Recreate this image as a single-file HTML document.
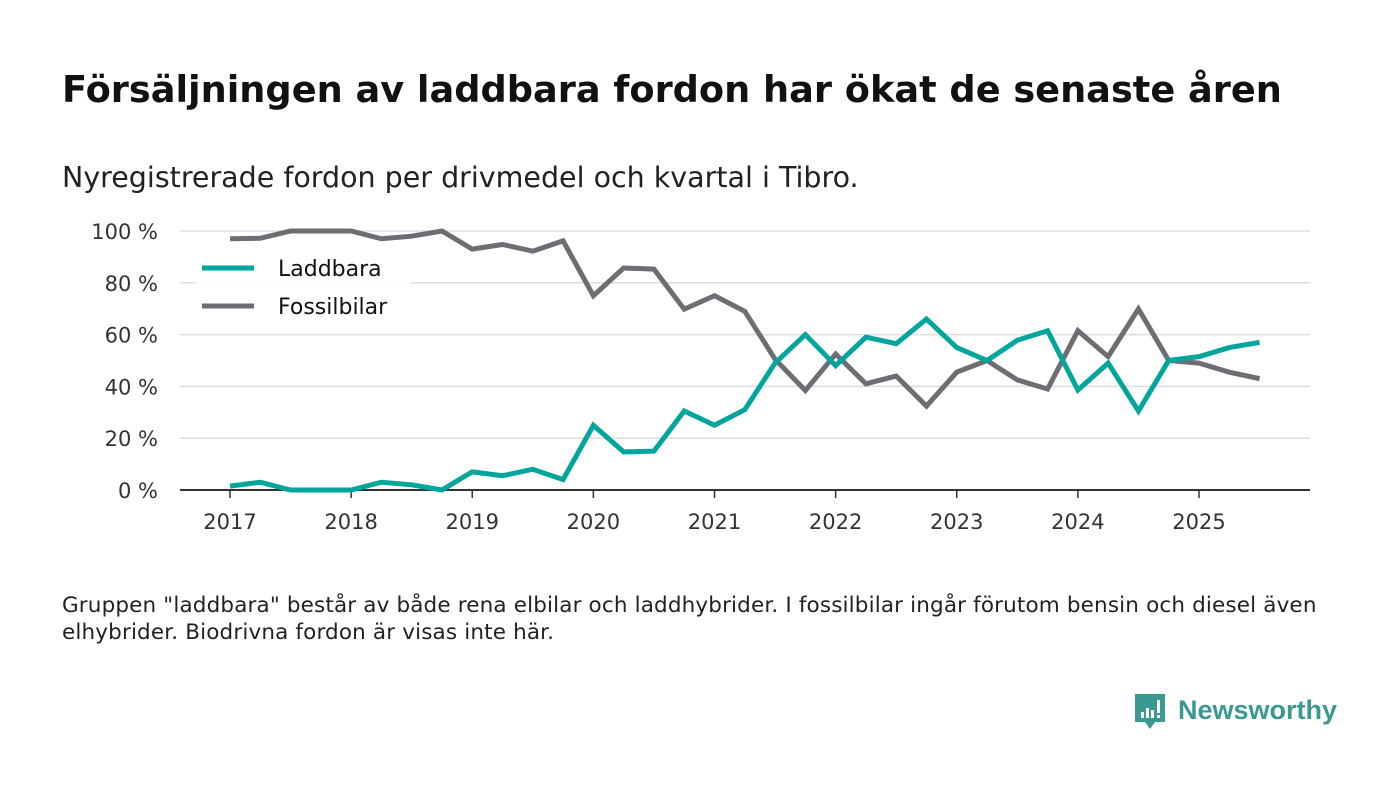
<!DOCTYPE html>
<html><head><meta charset="utf-8">
<style>
body{margin:0;background:#fff;font-family:"DejaVu Sans","Liberation Sans",sans-serif;}
#wrap{position:relative;width:1400px;height:793px;overflow:hidden;}
h1{position:absolute;left:62px;top:68px;margin:0;font-size:36.7px;font-weight:bold;color:#111;white-space:nowrap;}
#sub{position:absolute;left:62px;top:161px;font-size:28.5px;color:#222;white-space:nowrap;}
#note{position:absolute;left:62px;top:592px;font-size:21.5px;color:#222;line-height:27px;white-space:nowrap;letter-spacing:0.15px;}
#logo{position:absolute;left:1133px;top:692px;}
</style></head><body>
<div id="wrap">
<h1>Försäljningen av laddbara fordon har ökat de senaste åren</h1>
<div id="sub">Nyregistrerade fordon per drivmedel och kvartal i Tibro.</div>
<svg id="chart" width="1400" height="793" style="position:absolute;left:0;top:0"></svg>
<div id="note">Gruppen "laddbara" består av både rena elbilar och laddhybrider. I fossilbilar ingår förutom bensin och diesel även<br>elhybrider. Biodrivna fordon är visas inte här.</div>
<div id="logo">
<svg width="215" height="42"><path d="M2 2h30v28h-10l-5 7-5-7H2z" fill="#3a9a92"/><rect x="8" y="20" width="3" height="6" fill="#fff"/><rect x="13" y="16" width="3" height="10" fill="#fff"/><rect x="18" y="18" width="3" height="8" fill="#fff"/><rect x="24" y="8" width="3" height="13" fill="#fff"/><rect x="24" y="23" width="3" height="3" fill="#fff"/>
<text x="45" y="27" font-family="Liberation Sans" font-weight="bold" font-size="27" fill="#3a9a92">Newsworthy</text></svg></div>
</div>
<script>
const years=["2017","2018","2019","2020","2021","2022","2023","2024","2025"];
const yTicks=[0,20,40,60,80,100];
const laddbara=[1.5,3,0,0,0,3,2,0,7,5.5,8,4,25,14.7,15,30.5,25,31,49,60,48,59,56.5,66,55,50,57.8,61.5,38.6,49,30.5,50,51.5,55,57];
const fossil=[97,97.2,100,100,100,97,98,100,93,94.8,92.2,96.2,75,85.7,85.3,69.8,75,69,50.5,38.4,52.5,41,44,32.4,45.5,50,42.5,39,61.5,51.5,69.9,50,49,45.5,43];
const svg=document.getElementById('chart');const NS='http://www.w3.org/2000/svg';
const FONT='DejaVu Sans';
const x=i=>230+i*(969/32);
const y=v=>490-v*2.59;
function mk(t,a){const e=document.createElementNS(NS,t);for(const k in a)e.setAttribute(k,a[k]);svg.appendChild(e);return e;}
yTicks.forEach(v=>{
 if(v>0){const g=mk('line',{x1:180,x2:1310,y1:y(v),y2:y(v),stroke:'#ddd','stroke-width':1.5});
 
 }
 const t=mk('text',{x:158,y:y(v)+8,'text-anchor':'end','font-size':21,fill:'#333','font-family':FONT});t.textContent=v+' %';
 
 
});
const ax=mk('line',{x1:180,x2:1310,y1:490,y2:490,stroke:'#333','stroke-width':2});


years.forEach((yr,i)=>{const xx=x(i*4);
 const tk=mk('line',{x1:xx,x2:xx,y1:490,y2:498,stroke:'#333','stroke-width':1.5});
 
 
 const t=mk('text',{x:xx,y:529,'text-anchor':'middle','font-size':21,fill:'#333','font-family':FONT});t.textContent=yr;
 
 
});
function line(d,c,n){const p=mk('polyline',{points:d.map((v,i)=>x(i)+','+y(v)).join(' '),fill:'none',stroke:c,'stroke-width':5,'stroke-linejoin':'miter'});
 
 }
line(fossil,'#6e6d74','fossilbilar-line');
line(laddbara,'#00a69c','laddbara-line');
const bg=mk('rect',{x:196,y:250,width:215,height:74,fill:'#fff',opacity:0.9});


[['Laddbara','#00a69c',268],['Fossilbilar','#6e6d74',306]].forEach(([l,c,yy])=>{
 const s=mk('line',{x1:202,x2:254,y1:yy,y2:yy,stroke:c,'stroke-width':5});
 
 
 const t=mk('text',{x:278,y:yy+8,'font-size':22,fill:'#111','font-family':FONT});t.textContent=l;
 
 
});
</script>
</body></html>
